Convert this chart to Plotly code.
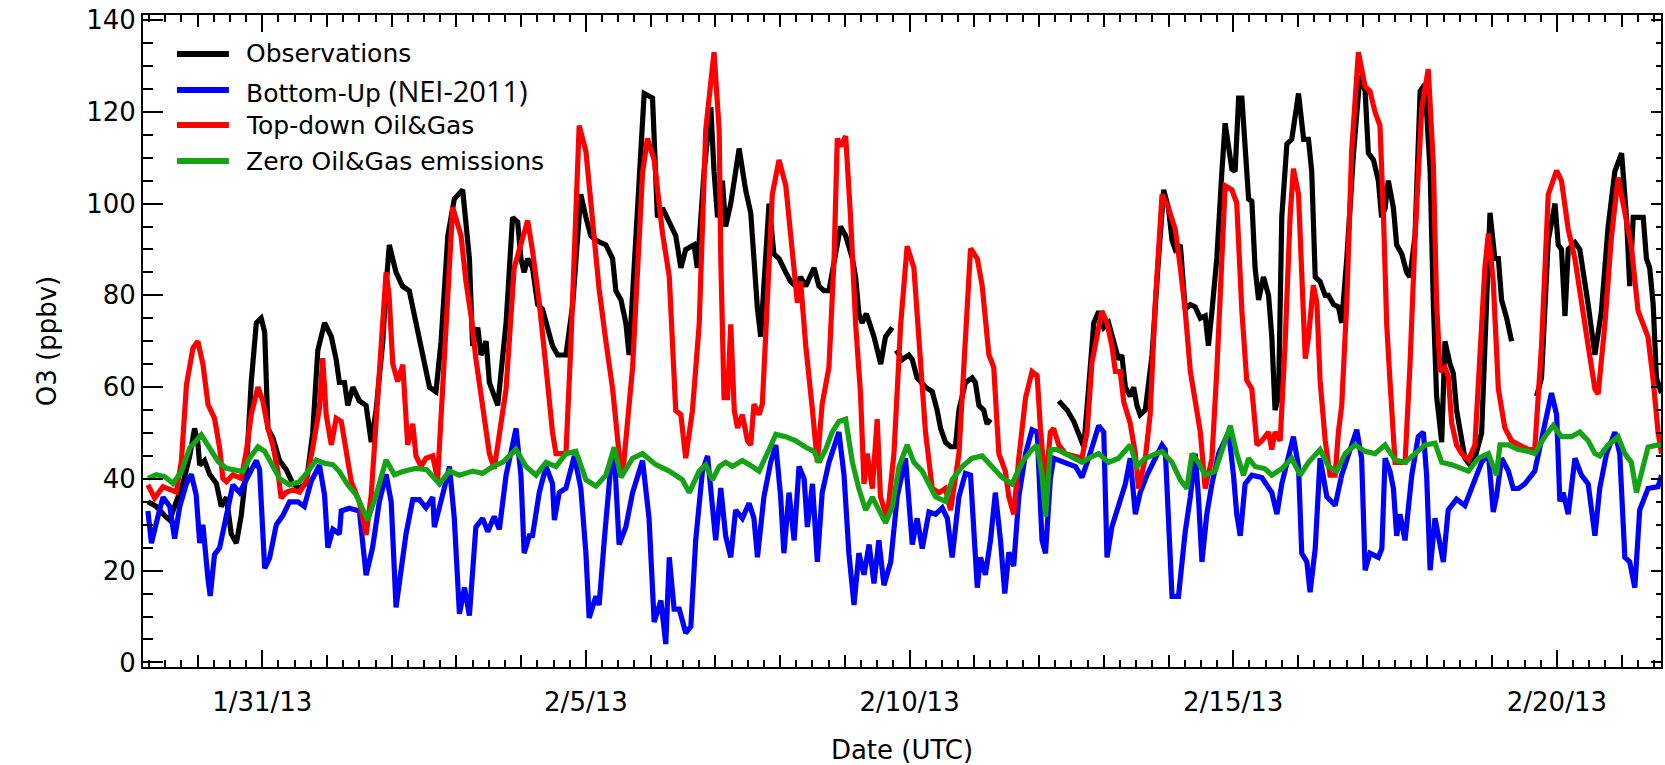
import pandas as pd
import plotly.graph_objects as go

# ---------------- data (hours since 2013-01-29 00:00 UTC, O3 in ppbv) ----------------
BASE = pd.Timestamp("2013-01-29 00:00")

obs_points = [
    (5.6, 35), (8.7, 34), (11.8, 32), (13.7, 31), (16.1, 35), (18.6, 39), (21.1, 45), (22.9, 51),
    (24.1, 48), (24.8, 43), (26.6, 44), (28.5, 41), (31.0, 39), (32.8, 34), (34.7, 36), (36.5, 28),
    (38.4, 26), (40.2, 32), (42.1, 42), (43.9, 61), (45.8, 74), (47.6, 75), (48.9, 72), (50.1, 51),
    (51.9, 49), (54.4, 44), (56.9, 42), (59.3, 39), (61.8, 38), (64.3, 39), (66.7, 50), (68.6, 68),
    (71.1, 74), (73.6, 71), (75.4, 66), (76.6, 61), (78.5, 61), (79.7, 56), (81.6, 60), (84.0, 57),
    (86.5, 56), (88.4, 48), (90.2, 55), (92.7, 70), (93.9, 82), (95.1, 91), (97.6, 85), (100.0, 82),
    (102.5, 81), (105.0, 74), (107.5, 67), (110.0, 60), (112.4, 59), (114.3, 70), (116.8, 93),
    (119.2, 101), (122.3, 103), (123.5, 96), (124.8, 88), (126.0, 69), (127.9, 73), (129.1, 67),
    (131.0, 70), (132.2, 61), (134.0, 58), (135.3, 56), (138.4, 74), (140.8, 97), (142.7, 96),
    (143.9, 88), (145.1, 85), (146.4, 88), (148.2, 86), (150.1, 78), (151.9, 77), (153.2, 74),
    (155.6, 69), (157.5, 67), (160.6, 67), (163.1, 78), (166.1, 102), (168.0, 97), (169.8, 93),
    (171.7, 92), (175.4, 91), (177.9, 88), (179.1, 81), (181.0, 79), (182.8, 74), (184.0, 67),
    (186.5, 91), (189.6, 124), (192.7, 123), (194.5, 97), (196.4, 99), (198.9, 96), (201.3, 93),
    (203.2, 86), (205.0, 90), (208.1, 91), (209.3, 86), (211.8, 107), (214.3, 121), (215.5, 107),
    (216.8, 97), (218.6, 105), (219.8, 95), (221.7, 100), (223.5, 108), (224.8, 112), (227.2, 103),
    (229.1, 98), (230.3, 88), (231.6, 77), (232.8, 71), (235.9, 100), (237.7, 89), (239.6, 88),
    (242.1, 85), (243.9, 83), (245.8, 82), (247.6, 84), (249.5, 82), (252.6, 86), (254.4, 82),
    (256.3, 81), (258.1, 81), (260.6, 90), (262.4, 95), (264.3, 93), (266.8, 88), (268.0, 84),
    (269.2, 76), (270.4, 74), (272.0, 76), (274.8, 71), (277.3, 65), (279.1, 71), (281.6, 73),
    (282.3, None), (283.0, 68), (285.3, 66), (287.7, 67), (289.0, 66), (290.8, 62), (293.9, 60),
    (296.4, 59), (298.2, 55), (299.5, 51), (301.3, 48), (303.2, 47), (305.0, 47), (306.3, 55),
    (308.7, 61), (311.2, 62), (312.4, 61), (313.7, 56), (315.5, 55), (316.7, 52), (318.0, 53),
    (330.0, None), (343.3, 57), (346.4, 55), (348.9, 52.5), (350.7, 50), (352.6, 47), (354.4, 60),
    (356.3, 74), (358.1, 76.5), (360.0, 73), (361.8, 74), (363.7, 70), (365.5, 66), (366.7, 67),
    (368.0, 60), (369.8, 58), (371.1, 60), (372.3, 56), (373.5, 54), (375.4, 55), (377.9, 67),
    (380.3, 88), (382.2, 103), (384.0, 99), (385.3, 92), (386.5, 90), (388.4, 91), (390.2, 77),
    (392.1, 78), (393.9, 77.5), (395.8, 75), (397.6, 75.5), (398.8, 69), (400.1, 76.5), (401.9, 88),
    (403.8, 107), (405.0, 117.5), (407.5, 107.5), (408.7, 107), (410.0, 123), (411.2, 123),
    (413.7, 101), (414.9, 100.5), (416.1, 86), (417.4, 79), (419.2, 84), (421.1, 80), (422.3, 71),
    (423.5, 55), (424.8, 58), (426.0, 97), (427.9, 113), (429.7, 114), (432.2, 124), (434.1, 114),
    (435.9, 114), (437.1, 107), (438.4, 84), (440.2, 83), (442.1, 80), (443.3, 80), (445.2, 78),
    (447.0, 77.5), (448.2, 74), (450.1, 88), (452.6, 111), (455.0, 128), (456.9, 124.5), (458.1, 111),
    (460.0, 109.5), (461.8, 105), (463.0, 97), (464.3, 99), (465.5, 105), (467.4, 99), (468.6, 91),
    (470.5, 89), (472.3, 85), (473.5, 84), (475.4, 93), (477.3, 124.5), (479.1, 126), (481.0, 107),
    (482.2, 78), (483.4, 58), (485.3, 48), (486.5, 70), (488.4, 65), (489.6, 63), (490.8, 55),
    (492.1, 50), (493.9, 44.5), (495.8, 43), (497.6, 44.5), (500.1, 50), (501.3, 67), (503.2, 98),
    (505.0, 88), (506.3, 88), (507.5, 79), (509.4, 75), (511.2, 70), (515.0, None), (520.5, 58),
    (522.3, 62), (524.8, 92), (527.3, 100), (528.5, 91), (529.7, 90), (531.0, 75.5), (532.2, 90),
    (534.7, 91.5), (536.5, 90), (539.6, 78), (542.1, 67), (544.5, 76.5), (547.0, 95), (549.5, 107),
    (552.0, 111), (553.8, 97), (555.0, 82), (556.3, 97), (560.0, 97), (561.2, 88), (562.4, 86),
    (563.7, 78), (564.9, 62), (566.8, 58.7),
]

bottomup_points = [
    (5.6, 33), (6.9, 26), (9.4, 32), (11.2, 36), (13.7, 34), (15.5, 27), (17.4, 34), (19.9, 39),
    (21.7, 41), (23.5, 36.5), (24.8, 26), (26.0, 30), (27.9, 18), (28.7, 14.5), (30.3, 23.5),
    (32.2, 25), (34.7, 32), (37.1, 38.7), (39.6, 37), (42.1, 40), (45.8, 44), (47.0, 42),
    (48.9, 20.5), (50.7, 22.7), (53.2, 30), (55.6, 32), (58.1, 35), (61.2, 35), (63.6, 34),
    (66.1, 39.4), (69.2, 43), (71.1, 36.5), (72.3, 25), (74.2, 29), (76.6, 28), (77.3, 33),
    (80.3, 33.6), (84.0, 33), (86.5, 19), (88.9, 25), (91.4, 35), (93.9, 41), (95.8, 35),
    (97.6, 12), (100.1, 22.4), (101.3, 28), (103.8, 35.5), (106.3, 35.5), (108.7, 33.7), (111.2, 36),
    (111.8, 29.5), (113.7, 33.5), (115.5, 38), (117.4, 42.7), (119.2, 31.4), (121.1, 10.6),
    (123.0, 16.3), (124.8, 10.2), (127.2, 29.5), (129.7, 31.4), (131.6, 28.5), (134.0, 31.8),
    (135.9, 29), (138.4, 40.8), (142.1, 51), (143.9, 40.8), (145.1, 23.8), (147.0, 27.6),
    (148.2, 27.6), (150.7, 37), (153.2, 42.7), (155.6, 39), (156.3, 31), (158.1, 37), (160.6, 38),
    (163.7, 45), (166.1, 38), (168.0, 23.8), (169.2, 9.7), (171.7, 14.4), (172.9, 12.5),
    (174.8, 26.6), (177.2, 42.7), (178.5, 46), (180.3, 25.7), (182.8, 29.5), (185.3, 37), (189.0, 44),
    (191.4, 31.4), (193.3, 8.8), (195.8, 13.5), (197.6, 4), (198.9, 22.9), (200.7, 11.6),
    (202.6, 11.6), (205.0, 6.4), (206.9, 7.8), (208.7, 26.6), (211.2, 41.7), (213.1, 45),
    (214.3, 38), (216.1, 26.6), (218.0, 38), (219.8, 27.6), (221.7, 22.9), (223.5, 33.2), (226.0, 31.4),
    (228.5, 34.7), (230.3, 31.4), (231.6, 22.9), (234.0, 36.1), (236.5, 43.6), (238.4, 47.4),
    (240.2, 36.1), (241.4, 23.8), (243.3, 37), (245.2, 26.6), (247.0, 42.7), (248.9, 40),
    (250.1, 29.5), (252.0, 38.9), (253.8, 21.9), (255.6, 37), (258.1, 43.6), (261.8, 50.2),
    (263.7, 40.8), (265.5, 23.8), (267.4, 12.5), (269.2, 23.8), (271.1, 19.1), (273.0, 25.7),
    (274.8, 17.2), (276.6, 26.6), (278.5, 16.8), (281.0, 21.9), (283.4, 36.1), (286.5, 44.5),
    (289.0, 25.7), (290.8, 31.4), (292.7, 24.8), (295.2, 32.8), (297.6, 32.3), (300.1, 33.7),
    (302.0, 31.4), (303.8, 22.9), (306.3, 36.1), (308.7, 41.2), (310.6, 40.8), (313.1, 16.3),
    (314.3, 22.9), (316.1, 19.1), (318.0, 26.6), (319.8, 37), (321.7, 26.6), (323.3, 15),
    (324.8, 24), (326.6, 21), (328.5, 36.1), (331.0, 45.5), (333.4, 50.7), (335.3, 50.2),
    (337.1, 26.6), (338.4, 23.8), (340.2, 40), (341.4, 44.5), (345.8, 43.6), (349.5, 42.7),
    (351.9, 40.3), (354.4, 44.5), (358.1, 51.6), (360.0, 50.2), (361.2, 22.9), (363.0, 29.5),
    (365.5, 34.2), (368.0, 38.9), (369.8, 44.5), (371.7, 32.3), (373.5, 37), (376.0, 40.8),
    (379.1, 44.5), (381.6, 47.4), (382.8, 46.4), (385.3, 14.4), (387.7, 14.4), (390.2, 28.5),
    (392.1, 36.1), (393.9, 45.5), (395.1, 36.1), (396.4, 21.9), (398.2, 32.3), (400.1, 38.9),
    (402.6, 45.5), (406.3, 50.2), (408.1, 40.8), (409.3, 32.3), (410.6, 27.6), (412.4, 38.9),
    (414.9, 40.8), (418.6, 40.3), (422.3, 37), (424.2, 32.3), (426.0, 38.9), (428.5, 45.5),
    (430.3, 49.2), (432.2, 42.7), (433.4, 23.8), (435.3, 21.9), (436.5, 15.3), (438.4, 24.8),
    (440.2, 44.5), (442.7, 36.1), (444.5, 35.1), (445.8, 34.2), (448.2, 40.8), (450.7, 45.5),
    (453.8, 50.7), (455.6, 44.5), (456.9, 20.1), (458.7, 23.8), (461.8, 22.9), (463.1, 24.8),
    (464.3, 44.5), (466.1, 41.7), (467.4, 37.9), (468.6, 27.6), (469.8, 32.3), (471.7, 26.6),
    (474.2, 40.8), (476.6, 49.2), (478.5, 50.2), (479.7, 40.8), (481.0, 20.1), (482.8, 31.4),
    (484.7, 24.8), (485.9, 21.9), (487.7, 33.2), (490.8, 35.6), (493.9, 34.2), (496.4, 37.9),
    (500.1, 43.6), (502.6, 45.5), (504.4, 32.8), (505.6, 36.1), (507.5, 44.5), (510.0, 41.7),
    (511.8, 37.9), (513.7, 37.9), (516.1, 38.9), (519.8, 41.7), (522.9, 50.2), (526.0, 58.7),
    (527.9, 54), (529.1, 35.1), (530.3, 37), (532.2, 32.3), (534.7, 44.5), (537.1, 40.8),
    (539.6, 38.9), (542.1, 27.6), (543.9, 38), (546.4, 45.5), (549.5, 50.2), (551.3, 45.5),
    (553.2, 22.9), (555.0, 21.9), (556.9, 16.3), (558.7, 33.2), (561.8, 37.9), (565.5, 38.3),
    (566.8, 40.8),
]

topdown_points = [
    (5.6, 38.7), (8.1, 35.8), (11.2, 38.3), (13.7, 37.6), (16.1, 37.1), (18.0, 43.8), (19.9, 60.5),
    (22.3, 68.5), (24.1, 70), (26.0, 65), (27.9, 56.2), (30.3, 53.2), (32.2, 46.7), (33.4, 40.1),
    (34.7, 39.4), (37.1, 40.9), (40.2, 40.1), (42.1, 46), (43.9, 54), (46.4, 60), (48.2, 57),
    (50.1, 51), (51.9, 47.4), (53.8, 41.6), (55.0, 35.8), (56.9, 37.1), (59.3, 37.6), (61.8, 37.1),
    (64.3, 39.4), (66.7, 46.7), (69.2, 55.4), (70.4, 66.3), (71.7, 54), (73.6, 47.4), (75.4, 53.2),
    (77.3, 52.5), (79.1, 45.2), (81.0, 39.4), (84.0, 35), (86.5, 27.8), (88.4, 36.5), (90.2, 52.5),
    (92.1, 72.2), (93.9, 85), (95.0, 80), (96.4, 65), (98.2, 61.2), (100.1, 64.9), (101.9, 47.4),
    (103.8, 52), (105.0, 45), (106.9, 42.7), (108.7, 44.5), (111.2, 45), (113.0, 39.8), (115.5, 64.3),
    (118.6, 99.2), (120.5, 95.4), (121.7, 93), (123.5, 83.1), (125.4, 75.6), (127.2, 66.2),
    (129.7, 54.9), (132.2, 45.5), (134.0, 42.2), (138.4, 59.6), (141.4, 86), (146.4, 96.3),
    (148.2, 89.7), (150.7, 78.4), (153.2, 64.3), (155.6, 50.2), (156.9, 45.5), (160.6, 45.5),
    (162.4, 69), (165.5, 117), (168.0, 111.4), (170.5, 97.3), (172.9, 81.3), (175.4, 70),
    (177.9, 59.6), (180.3, 45.5), (181.6, 40.8), (185.3, 64.3), (189.0, 106.7), (190.8, 114.2),
    (193.3, 109.5), (196.4, 93.5), (198.9, 84.1), (201.3, 54.9), (203.2, 54), (205.0, 44.5),
    (207.5, 54.9), (210.0, 73.7), (212.4, 116), (215.5, 133), (217.4, 116), (218.0, 87.9),
    (219.2, 57.7), (220.5, 57.7), (221.7, 73.7), (223.0, 54.9), (224.2, 51.1), (226.0, 54),
    (227.9, 48.3), (229.1, 47.4), (230.3, 56.3), (232.2, 54), (233.4, 56.3), (234.7, 71.8),
    (237.1, 102), (239.6, 109.5), (242.1, 103.9), (244.5, 89.7), (246.4, 78.4), (247.6, 83),
    (249.5, 69), (252.0, 54.9), (253.8, 43.6), (255.6, 56.3), (258.1, 64.3), (260.0, 87.9),
    (261.2, 114.2), (262.4, 112.5), (264.3, 114.7), (266.1, 97.3), (268.0, 73.7), (269.8, 58.7),
    (271.1, 38.9), (272.3, 45.5), (274.2, 37.9), (276.0, 53), (277.2, 36.1), (279.7, 31.4),
    (282.2, 45.5), (284.7, 73.7), (287.1, 90.7), (289.6, 86), (291.5, 69), (293.9, 50.2),
    (296.4, 37.9), (298.9, 37), (301.3, 37.9), (303.2, 33.2), (306.3, 45.5), (308.7, 69),
    (310.6, 90.2), (313.1, 88), (314.9, 82.2), (317.4, 67.1), (319.2, 64.3), (321.1, 45.5),
    (323.5, 41.7), (324.8, 36.1), (326.6, 32.3), (328.5, 44.5), (331.0, 57.7), (333.4, 63.4),
    (335.3, 62.5), (336.5, 51.1), (338.4, 37.9), (340.2, 50.2), (341.4, 51), (343.3, 47.4),
    (345.8, 45.5), (351.9, 44.5), (353.8, 50.2), (355.6, 65.3), (359.3, 76.6), (361.2, 74),
    (363.0, 69), (364.3, 63.4), (366.1, 63.4), (367.4, 56.8), (369.8, 52.1), (371.7, 45.5),
    (372.9, 37.9), (375.4, 44.5), (377.2, 54), (379.1, 78.4), (381.6, 102), (384.0, 99),
    (386.5, 94.4), (388.4, 86), (390.2, 76.6), (392.1, 63.4), (393.9, 57.7), (395.8, 50.2),
    (397.6, 37.9), (400.1, 44.5), (401.9, 63.4), (403.8, 87.9), (405.0, 103.9), (407.5, 103),
    (409.3, 100.1), (411.2, 76.6), (413.0, 61.5), (414.9, 59.6), (416.8, 47.4), (418.6, 48.3),
    (421.1, 50.2), (422.3, 46.4), (423.5, 50.2), (425.4, 48.3), (427.2, 69), (429.1, 97.3),
    (430.3, 107.6), (432.2, 102), (433.4, 84.1), (434.7, 66.2), (435.9, 70.9), (437.7, 82.2),
    (439.0, 78.4), (440.2, 61.5), (442.1, 48.3), (443.9, 40.8), (445.8, 40.8), (447.0, 50.2),
    (448.2, 55.8), (450.1, 78.4), (451.9, 111.4), (454.4, 133), (456.9, 125.5), (458.7, 124.5),
    (460.6, 119.9), (462.4, 117), (463.7, 97.3), (464.9, 73.7), (466.1, 61.5), (468.0, 43.6),
    (471.7, 43.6), (473.5, 64.3), (475.4, 92.6), (477.9, 120.8), (480.3, 129.3), (482.2, 108.6),
    (483.4, 78.4), (484.7, 63.4), (486.5, 64.3), (487.7, 62.4), (489.0, 52.1), (490.8, 47.4),
    (492.7, 45.5), (495.2, 44.1), (497.6, 47.4), (499.5, 66.2), (501.3, 86), (502.6, 93.5),
    (504.4, 83), (506.3, 59.6), (508.7, 51.1), (511.2, 48.3), (517.4, 46.4), (519.8, 46.4),
    (522.3, 69), (524.8, 102), (527.9, 107.2), (529.7, 105), (532.2, 94.4), (534.7, 87.9),
    (537.1, 79.4), (539.6, 69), (542.1, 59.6), (543.3, 58.5), (545.8, 73.7), (548.2, 92.6),
    (550.7, 105.7), (553.2, 97.3), (555.6, 90.7), (558.1, 76.6), (560.0, 73.7), (561.8, 70.9),
    (563.7, 61.5), (565.5, 50.2), (566.8, 45.5),
]

zero_points = [
    (5.6, 40.1), (8.7, 40.9), (11.8, 40.5), (14.9, 39), (18.0, 41.6), (21.1, 46.7), (25.4, 49.6),
    (28.5, 46.7), (31.6, 43.8), (34.7, 42.3), (38.4, 42), (40.8, 41.6), (43.3, 44.5), (46.4, 47),
    (48.9, 46), (51.4, 43.1), (54.4, 40.1), (58.1, 38.7), (61.8, 39.4), (64.9, 41.6), (68.0, 44.1),
    (71.1, 43.4), (74.2, 43.1), (76.6, 41.6), (79.7, 38.7), (82.8, 36.5), (87.1, 31), (90.2, 36.5),
    (93.9, 44.1), (97.0, 40.9), (100.1, 41.6), (105.0, 42.3), (109.0, 42), (113.7, 38.9),
    (117.4, 41.7), (121.1, 40.8), (126.0, 41.7), (129.7, 41.2), (133.4, 42.7), (137.1, 43.6),
    (142.1, 46.4), (145.8, 42.7), (149.5, 40.8), (153.2, 43.6), (156.9, 42.7), (160.6, 45.5),
    (164.3, 46), (168.0, 39.8), (171.7, 38.4), (175.4, 40.8), (178.5, 46.9), (181.0, 40.3),
    (185.3, 44.5), (189.0, 45.5), (193.9, 43.1), (198.9, 41.7), (203.8, 39.8), (206.3, 37),
    (210.0, 41.7), (212.4, 43), (214.9, 39.8), (217.4, 42.7), (219.8, 43.6), (222.3, 42.7),
    (226.0, 44), (229.7, 42.7), (232.2, 41.7), (235.9, 46.4), (238.4, 49.7), (242.1, 49.2),
    (245.8, 48.3), (249.5, 46.9), (252.6, 46), (254.4, 43.6), (256.9, 46.4), (259.3, 50.2),
    (261.8, 52.5), (264.3, 53), (266.8, 43.6), (269.2, 37.9), (271.7, 33.2), (274.2, 36),
    (276.6, 33.2), (279.1, 30.4), (281.6, 34), (284.1, 42.7), (287.1, 47.4), (289.6, 43.6),
    (292.7, 41.7), (295.2, 38.9), (297.6, 36.1), (301.3, 35.1), (303.8, 39.8), (307.5, 42.7),
    (311.2, 44.5), (314.9, 45), (318.6, 42.7), (322.3, 40.3), (326.0, 38.9), (329.7, 43.6),
    (333.4, 46.4), (335.3, 47.4), (337.1, 40.8), (338.4, 31.8), (340.2, 46.4), (342.7, 46.4),
    (345.8, 45.5), (349.5, 44.5), (351.9, 43.6), (354.4, 44.5), (358.1, 45.5), (361.8, 43.6),
    (365.5, 44.5), (369.8, 47.4), (372.3, 42.7), (375.4, 44.5), (379.1, 45.5), (381.6, 46),
    (385.3, 43.6), (388.4, 39.8), (390.8, 37.9), (392.7, 45.5), (395.1, 43.6), (397.6, 40.8),
    (401.3, 41.7), (405.0, 48.3), (406.9, 51.6), (409.3, 45.5), (411.8, 40.8), (413.7, 44.5),
    (416.1, 42.7), (419.8, 42.2), (422.3, 40.8), (426.0, 42.2), (429.7, 44.5), (432.8, 40.8),
    (435.9, 43.6), (440.2, 46.4), (443.3, 42.7), (446.4, 41.7), (449.5, 45.5), (453.2, 47.4),
    (456.9, 46), (460.6, 45.5), (464.3, 47.4), (468.0, 44.1), (471.7, 43.6), (475.4, 45.5),
    (479.1, 47.4), (482.8, 47.8), (485.3, 43.6), (489.0, 43.1), (492.7, 42.2), (495.2, 41.7),
    (498.9, 44.5), (502.6, 45.5), (505.6, 40.8), (506.9, 47.4), (510.0, 47.4), (513.7, 46.4),
    (517.4, 46), (519.8, 45.5), (523.5, 49.2), (526.6, 51.6), (529.7, 49.2), (533.4, 49.2),
    (536.5, 50.2), (539.6, 48.3), (542.1, 45.5), (543.9, 45), (547.0, 47.4), (550.7, 49.2),
    (553.2, 45.5), (555.6, 43.6), (557.5, 37), (560.0, 42.7), (561.8, 46.9), (565.5, 47.4),
    (566.8, 47.4),
]

series_names = ["Observations", "Bottom-Up", "Top-down Oil&Gas", "Zero Oil&Gas emissions"]
legend_labels = [
    "Observations",
    "Bottom-Up <span style=\"font-family:Open Sans;font-size:29px\">(NEI-2011)</span>",
    "Top-down Oil&amp;Gas",
    "Zero Oil&amp;Gas emissions",
]
series_colors = ["#000000", "#0000FF", "#FF0000", "#14A314"]

major_dates = ["2013-01-31", "2013-02-05", "2013-02-10", "2013-02-15", "2013-02-20"]
major_labels = ["1/31/13", "2/5/13", "2/10/13", "2/15/13", "2/20/13"]
y_ticks = [0, 20, 40, 60, 80, 100, 120, 140]

# ---------------- figure ----------------
W, H = 1665, 765
PL, PR, PT, PB = 143, 1663, 15, 667          # plot area in px
x_start = BASE + pd.Timedelta(hours=3.78)
x_end = BASE + pd.Timedelta(hours=566.6)
y_range = [-1.0, 141.1]
FONT = "DejaVu Sans"


def to_xy(points):
    xs = [BASE + pd.Timedelta(hours=p[0]) for p in points]
    ys = [p[1] for p in points]
    return xs, ys


fig = go.Figure()
for pts, name, col in zip([obs_points, bottomup_points, topdown_points, zero_points],
                          series_names, series_colors):
    xs, ys = to_xy(pts)
    fig.add_trace(go.Scatter(x=xs, y=ys, mode="lines", name=name,
                             line=dict(color=col, width=5.2), connectgaps=False,
                             showlegend=False))

# empty helper traces so the secondary tick axes are drawn
fig.add_trace(go.Scatter(x=[], y=[], xaxis="x2", yaxis="y", showlegend=False, hoverinfo="skip"))
fig.add_trace(go.Scatter(x=[], y=[], xaxis="x", yaxis="y2", showlegend=False, hoverinfo="skip"))

daily = pd.date_range("2013-01-29", "2013-02-22", freq="D")

fig.update_layout(
    width=W, height=H,
    margin=dict(l=PL, r=W - PR, t=PT, b=H - PB),
    paper_bgcolor="white", plot_bgcolor="white",
    font=dict(family=FONT, size=26, color="black"),
    xaxis=dict(
        type="date", range=[x_start, x_end],
        tickmode="array", tickvals=major_dates, ticktext=major_labels,
        ticks="inside", ticklen=17, tickwidth=2, tickcolor="black",
        minor=dict(dtick=6 * 3600 * 1000, tick0="2013-01-29", ticks="inside",
                   ticklen=7, tickwidth=1.5, tickcolor="black", showgrid=False),
        showline=True, linewidth=2, linecolor="black", mirror="ticks",
        showgrid=False, zeroline=False,
        tickfont=dict(family=FONT, size=26),
        ticklabelstandoff=11,
        title=dict(text="Date (UTC)", font=dict(family=FONT, size=26), standoff=27),
    ),
    xaxis2=dict(
        type="date", range=[x_start, x_end], overlaying="x", anchor="y", side="bottom",
        tickmode="array", tickvals=list(daily),
        ticks="inside", ticklen=12, tickwidth=2, tickcolor="black",
        showticklabels=False, showline=False, mirror="ticks",
        showgrid=False, zeroline=False,
    ),
    yaxis=dict(
        range=y_range, tickmode="array", tickvals=y_ticks,
        ticks="inside", ticklen=20, tickwidth=2, tickcolor="black",
        minor=dict(dtick=5, tick0=0, ticks="inside", ticklen=10, tickwidth=1.5,
                   tickcolor="black", showgrid=False),
        showline=True, linewidth=2, linecolor="black", mirror=True,
        showgrid=False, zeroline=False,
        tickfont=dict(family=FONT, size=26),
        ticklabelstandoff=0,
        title=dict(text="O3 (ppbv)", font=dict(family=FONT, size=26), standoff=22),
    ),
    yaxis2=dict(
        range=y_range, overlaying="y", anchor="x", side="right",
        tickmode="array", tickvals=y_ticks,
        ticks="inside", ticklen=10, tickwidth=2, tickcolor="black",
        minor=dict(dtick=5, tick0=0, ticks="inside", ticklen=5, tickwidth=1.5,
                   tickcolor="black", showgrid=False),
        showticklabels=False, showline=False, showgrid=False, zeroline=False,
    ),
    showlegend=False,
)

# legend drawn in the upper-left corner of the plot
pw, ph = PR - PL, PB - PT
row_px = [54, 90, 125, 161]
for lab, col, ypx in zip(legend_labels, series_colors, row_px):
    yp = (PB - ypx) / ph
    fig.add_shape(type="line", xref="paper", yref="paper",
                  x0=(177 - PL) / pw, x1=(229 - PL) / pw, y0=yp, y1=yp,
                  line=dict(color=col, width=6))
    fig.add_annotation(xref="paper", yref="paper", x=(244 - PL) / pw, y=yp,
                       xanchor="left", yanchor="middle", showarrow=False,
                       text=lab, font=dict(family=FONT, size=25, color="black"))

fig.write_html("out.html", config={"displayModeBar": False},
               post_script="document.body.style.margin='0px';")
